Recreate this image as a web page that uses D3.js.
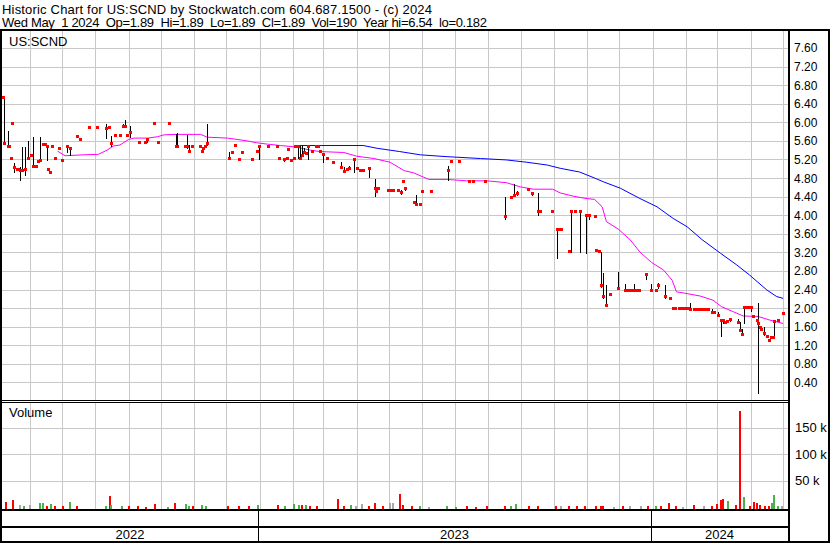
<!DOCTYPE html>
<html><head><meta charset="utf-8">
<script src="https://cdn.jsdelivr.net/npm/d3@7/dist/d3.min.js"></script>
<style>
body{margin:0;background:#fff}
svg{display:block}
text{font-family:"Liberation Sans",Arial,sans-serif;fill:#000}
</style>
</head><body>
<svg id="c" width="830" height="543"></svg>
<script>
// ---------------- DATA ----------------
const headerLine1 = "Historic Chart for US:SCND by Stockwatch.com 604.687.1500 - (c) 2024";
const headerLine2 = "Wed May  1 2024  Op=1.89  Hi=1.89  Lo=1.89  Cl=1.89  Vol=190  Year hi=6.54  lo=0.182";
const symbolLabel = "US:SCND";
const volumeLabel = "Volume";
const yearLabels = ["2022", "2023", "2024"];
const priceTicks = [0.4,0.8,1.2,1.6,2.0,2.4,2.8,3.2,3.6,4.0,4.4,4.8,5.2,5.6,6.0,6.4,6.8,7.2,7.6];
const volumeTicks = [50000, 100000, 150000];
const volumeTickLabels = ["50 k", "100 k", "150 k"];

// rows: [date, high, low, close]  or  [date, close] when no range
const prices2022 = [
["2022-05-07",6.54],["2022-05-08",6.54,5.55,5.55],["2022-05-12",5.82,5.47,5.49],["2022-05-13",5.49],
["2022-05-15",5.24],["2022-05-16",5.99],["2022-05-18",5.12,4.93,5.03],["2022-05-20",5.00],["2022-05-21",5.00],
["2022-05-23",5.04,4.76,4.98],["2022-05-25",5.47,4.97,4.98],["2022-05-28",5.47,4.87,5.00],["2022-05-31",5.60,5.23,5.23],
["2022-06-02",5.30],["2022-06-04",5.69,5.06,5.06],["2022-06-07",5.06],["2022-06-09",5.16],["2022-06-11",5.69,5.19,5.19],
["2022-06-14",5.54],["2022-06-15",5.54],["2022-06-17",5.49,5.19,5.49],["2022-06-18",4.99],["2022-06-20",4.94],
["2022-06-22",5.49],["2022-06-25",5.24],["2022-06-28",5.45],["2022-07-01",5.19],["2022-07-06",5.50,5.35,5.50],
["2022-07-09",5.45,5.30,5.45],["2022-07-15",5.71],["2022-07-18",5.64],["2022-07-26",5.90],["2022-08-03",5.90],
["2022-08-11",5.96,5.66,5.88],["2022-08-14",5.89],["2022-08-16",5.71,5.49,5.55],["2022-08-19",5.73],["2022-08-24",5.73],
["2022-08-27",5.96,5.91,5.91],["2022-08-29",6.05,5.93,5.93],["2022-08-31",5.73],["2022-09-02",5.92,5.68,5.80],
["2022-09-11",5.58],["2022-09-16",5.58],["2022-09-18",5.63,5.58,5.63],["2022-09-25",5.99],["2022-09-28",5.58],
["2022-10-09",5.99],["2022-10-15",5.75,5.49,5.50],["2022-10-16",5.77,5.49,5.49],["2022-10-23",5.49],["2022-10-24",5.49],
["2022-10-25",5.73,5.45,5.49],["2022-10-27",5.51,5.39,5.39],["2022-10-30",5.49],["2022-11-06",5.49],["2022-11-08",5.39],
["2022-11-09",5.45,5.39,5.45],["2022-11-11",5.49],["2022-11-13",5.96,5.51,5.55],["2022-12-03",5.37,5.24,5.24],
["2022-12-06",5.35],["2022-12-09",5.51],["2022-12-13",5.22],["2022-12-15",5.35],["2022-12-25",5.22],["2022-12-29",5.39],
["2022-12-31",5.51,5.22,5.49]
];
const prices2023 = [
["2023-01-09",5.49],["2023-01-17",5.49],["2023-01-19",5.26,5.24,5.24],["2023-01-23",5.23,5.17,5.20],["2023-01-26",5.23],
["2023-01-27",5.43],["2023-01-30",5.19],["2023-02-02",5.23],["2023-02-03",5.50],["2023-02-05",5.50,5.24,5.50],
["2023-02-07",5.50,5.23,5.23],["2023-02-09",5.50,5.29,5.29],["2023-02-11",5.45,5.35,5.35],["2023-02-13",5.33],
["2023-02-15",5.50,5.20,5.50],["2023-02-18",5.39],["2023-02-22",5.50],["2023-02-24",5.50],["2023-02-26",5.39],
["2023-03-01",5.31,5.15,5.31],["2023-03-04",5.23],["2023-03-10",5.15],["2023-03-17",5.15,5.02,5.04],["2023-03-20",5.04,4.95,4.95],
["2023-03-23",4.99],["2023-03-25",5.05,4.99,5.02],["2023-03-29",5.20,4.94,5.20],["2023-04-01",5.02],["2023-04-04",4.98],
["2023-04-05",5.00,4.95,4.98],["2023-04-07",4.98],["2023-04-12",5.02,4.82,5.02],["2023-04-18",4.79,4.42,4.59],["2023-04-19",4.53],
["2023-04-21",4.59],["2023-04-30",4.54],["2023-05-03",4.54],["2023-05-05",4.54],["2023-05-09",4.54],["2023-05-12",4.54,4.45,4.50],
["2023-05-14",4.74],["2023-05-16",4.61,4.54,4.58],["2023-05-24",4.29],["2023-05-26",4.43,4.24,4.24],["2023-05-30",4.24],
["2023-06-01",4.53],["2023-06-09",4.53],["2023-06-25",5.06,4.76,4.98],["2023-06-28",5.17],["2023-07-05",5.17],["2023-07-14",4.74],
["2023-07-18",4.74],["2023-07-29",4.74],["2023-08-17",4.40,3.91,3.98],["2023-08-22",4.40],["2023-08-25",4.67,4.43,4.43],
["2023-08-28",4.53,4.43,4.48],["2023-09-07",4.56],["2023-09-11",4.50,4.44,4.47],["2023-09-16",4.48,4.00,4.10],["2023-09-18",4.10],
["2023-09-29",4.10],["2023-10-04",3.72,3.07,3.70],["2023-10-06",3.70],["2023-10-08",3.70],["2023-10-15",3.24],
["2023-10-17",4.08,3.21,4.08],["2023-10-21",4.08],["2023-10-25",4.08,3.20,4.08],["2023-10-31",4.00,3.19,4.00],
["2023-11-03",4.00,3.92,4.00],["2023-11-08",3.98],["2023-11-09",3.25],["2023-11-12",3.23],["2023-11-14",3.21,2.46,2.50],
["2023-11-16",2.76,2.21,2.25],["2023-11-19",2.50,2.07,2.07],["2023-11-22",2.30],["2023-11-30",2.78,2.43,2.44],
["2023-12-06",2.52,2.40,2.40],["2023-12-08",2.40],["2023-12-10",2.40],["2023-12-12",2.40],["2023-12-15",2.52,2.40,2.40],
["2023-12-17",2.40],["2023-12-19",2.40],["2023-12-26",2.73,2.63,2.73],["2023-12-30",2.52,2.40,2.40]
];
const prices2024 = [
["2024-01-04",2.40],["2024-01-06",2.54,2.43,2.50],["2024-01-12",2.50,2.21,2.26],["2024-01-17",2.21],["2024-01-20",2.01],
["2024-01-22",2.01],["2024-01-25",2.01],["2024-01-27",2.01],["2024-01-29",2.01],["2024-01-31",2.01],["2024-02-03",2.01],
["2024-02-05",2.12,1.95,1.99],["2024-02-08",1.97],["2024-02-10",1.97],["2024-02-12",1.97],["2024-02-14",1.97],["2024-02-17",1.97],
["2024-02-19",1.97],["2024-02-21",1.97],["2024-02-25",1.97,1.92,1.92],["2024-02-27",1.92],["2024-03-02",1.92,1.84,1.85],
["2024-03-04",1.75,1.39,1.74],["2024-03-06",1.74,1.68,1.74],["2024-03-08",1.70],["2024-03-10",1.72],["2024-03-13",1.79,1.72,1.76],
["2024-03-20",1.77,1.70,1.70],["2024-03-22",1.70,1.53,1.53],["2024-03-24",1.55,1.44,1.44],["2024-03-26",2.03,1.67,2.02],
["2024-03-28",2.02],["2024-03-30",2.02],["2024-04-01",2.02,1.94,2.02],["2024-04-03",1.83],["2024-04-07",1.75],
["2024-04-08",2.12,0.18,1.67],["2024-04-10",1.60],["2024-04-11",1.54],["2024-04-13",1.60,1.43,1.47],["2024-04-16",1.40],
["2024-04-18",1.31],["2024-04-20",1.40,1.36,1.37],["2024-04-22",1.37],["2024-04-23",1.74,1.35,1.73],["2024-04-26",1.74],
["2024-05-01",1.89]
];

// moving averages: [date, value]
const maShort = [
["2022-06-27",5.38],["2022-07-04",5.28],["2022-07-21",5.30],["2022-08-04",5.31],["2022-08-12",5.40],["2022-08-18",5.49],
["2022-08-24",5.51],["2022-09-01",5.63],["2022-09-06",5.66],["2022-09-19",5.66],["2022-09-28",5.69],["2022-10-04",5.73],
["2022-10-16",5.74],["2022-11-07",5.74],["2022-11-13",5.68],["2022-12-02",5.66],["2022-12-20",5.60],["2022-12-29",5.56],
["2023-01-08",5.53],["2023-01-20",5.50],["2023-02-03",5.47],["2023-02-17",5.40],["2023-02-26",5.37],["2023-03-20",5.35],
["2023-04-01",5.27],["2023-04-17",5.22],["2023-05-02",5.14],["2023-05-15",4.96],["2023-05-24",4.91],["2023-06-02",4.82],
["2023-06-07",4.77],["2023-06-24",4.77],["2023-07-12",4.74],["2023-07-31",4.74],["2023-08-18",4.70],["2023-08-31",4.61],
["2023-09-12",4.56],["2023-09-30",4.56],["2023-10-07",4.48],["2023-10-19",4.41],["2023-10-31",4.36],["2023-11-08",4.34],
["2023-11-15",4.18],["2023-11-19",3.86],["2023-11-30",3.70],["2023-12-11",3.47],["2023-12-20",3.21],["2023-12-31",2.98],
["2024-01-11",2.82],["2024-01-19",2.60],["2024-01-23",2.35],["2024-01-31",2.32],["2024-02-14",2.26],["2024-02-26",2.17],
["2024-03-05",2.03],["2024-03-16",1.92],["2024-03-25",1.83],["2024-04-08",1.82],["2024-04-19",1.74],["2024-05-01",1.67]
];
const maLong = [
["2023-02-03",5.50],["2023-04-07",5.50],["2023-04-20",5.44],["2023-05-11",5.37],["2023-05-30",5.30],["2023-06-24",5.26],
["2023-07-25",5.22],["2023-08-18",5.19],["2023-09-06",5.14],["2023-09-25",5.08],["2023-10-07",5.01],["2023-10-25",4.93],
["2023-11-08",4.80],["2023-11-16",4.72],["2023-12-02",4.58],["2023-12-20",4.36],["2024-01-05",4.18],["2024-01-20",3.93],
["2024-02-02",3.75],["2024-02-16",3.47],["2024-03-04",3.18],["2024-03-19",2.93],["2024-03-31",2.71],["2024-04-16",2.39],
["2024-04-25",2.25],["2024-05-01",2.21]
];

// volume rows: [date, volume, direction] u = up (green), d = down (red), f = flat (grey)
const volume2022 = [
["2022-05-10",9400,"d"],["2022-05-17",13000,"d"],["2022-05-23",4000,"f"],["2022-05-27",1000,"u"],["2022-06-01",4000,"f"],
["2022-06-11",7000,"u"],["2022-06-14",7000,"u"],["2022-06-17",2000,"d"],["2022-06-21",5000,"u"],["2022-06-25",1000,"d"],
["2022-07-02",1000,"d"],["2022-07-09",9000,"u"],["2022-07-15",1000,"d"],["2022-08-11",1000,"u"],["2022-08-15",20800,"d"],
["2022-08-16",4000,"u"],["2022-08-26",1000,"u"],["2022-09-01",1000,"d"],["2022-09-10",1000,"d"],["2022-09-17",800,"d"],
["2022-09-26",5700,"d"],["2022-10-08",800,"u"],["2022-10-14",7000,"d"],["2022-10-24",5700,"u"],["2022-10-27",2000,"u"],
["2022-10-31",1000,"d"],["2022-11-08",4000,"u"],["2022-11-12",1000,"u"],["2022-12-02",2000,"d"],["2022-12-13",1000,"d"],
["2022-12-22",1000,"d"],["2022-12-30",4000,"u"]
];
const volume2023 = [
["2023-01-18",4000,"d"],["2023-01-24",1000,"u"],["2023-02-02",5700,"u"],["2023-02-06",4000,"u"],["2023-02-09",4000,"d"],
["2023-02-13",3000,"u"],["2023-02-17",1300,"d"],["2023-02-23",1000,"d"],["2023-03-15",15000,"d"],["2023-03-20",1000,"d"],
["2023-03-27",4000,"u"],["2023-03-31",2000,"f"],["2023-04-06",5700,"f"],["2023-04-12",1300,"d"],["2023-04-18",7000,"d"],
["2023-04-25",1000,"d"],["2023-05-02",7000,"f"],["2023-05-05",7000,"f"],["2023-05-11",24500,"d"],["2023-05-14",4000,"d"],
["2023-05-22",1000,"d"],["2023-05-30",1000,"u"],["2023-06-07",800,"f"],["2023-06-24",1000,"u"],["2023-07-02",800,"u"],
["2023-07-12",1000,"d"],["2023-07-21",800,"d"],["2023-07-31",1000,"d"],["2023-08-17",2500,"d"],["2023-08-22",1000,"u"],
["2023-08-27",5700,"u"],["2023-09-08",1000,"d"],["2023-09-16",1300,"d"],["2023-10-03",1300,"d"],["2023-10-08",1000,"f"],
["2023-10-15",1000,"d"],["2023-10-23",1000,"d"],["2023-10-30",1000,"d"],["2023-11-09",1300,"d"],["2023-11-14",2000,"d"],
["2023-11-16",1300,"d"],["2023-11-26",800,"f"],["2023-12-04",1300,"d"],["2023-12-11",2500,"f"],["2023-12-21",2500,"f"],
["2023-12-28",1000,"d"]
];
const volume2024 = [
["2024-01-04",1000,"u"],["2024-01-09",1300,"d"],["2024-01-16",7000,"d"],["2024-01-23",1000,"d"],["2024-01-29",800,"f"],
["2024-02-08",4000,"d"],["2024-02-18",1000,"f"],["2024-02-25",1000,"d"],["2024-03-01",5700,"d"],["2024-03-04",13000,"d"],
["2024-03-06",15000,"d"],["2024-03-11",11000,"u"],["2024-03-18",4000,"d"],["2024-03-22",181000,"d"],["2024-03-26",19000,"u"],
["2024-03-31",2000,"d"],["2024-04-04",9000,"d"],["2024-04-07",7000,"d"],["2024-04-10",4000,"d"],["2024-04-14",2500,"d"],
["2024-04-18",2000,"d"],["2024-04-21",7000,"u"],["2024-04-23",22600,"u"],["2024-04-26",1000,"u"],["2024-04-30",1300,"f"]
];

// ---------------- DRAW ----------------
const W = 830, H = 543;
const parse = d3.utcParse("%Y-%m-%d");
const x = d3.scaleUtc().domain([parse("2022-06-01"), parse("2024-05-01")]).range([29.5, 783]);
const yP = d3.scaleLinear().domain([0, 8]).range([401, 29.4]);
const yV = d3.scaleLinear().domain([0, 200000]).range([507, 401]);
const volColor = {u: "#4cb04c", d: "#ff0000", f: "#a8a8a8"};
const crisp = v => Math.round(v) + 0.5;

const svg = d3.select("#c");
svg.append("rect").attr("width", W).attr("height", H).attr("fill", "#fff");
const defs = svg.append("defs");
defs.append("clipPath").attr("id", "cp").append("rect").attr("x", 2).attr("y", 31).attr("width", 786).attr("height", 369);
defs.append("clipPath").attr("id", "cv").append("rect").attr("x", 2).attr("y", 403).attr("width", 786).attr("height", 106);

const months = d3.utcMonth.range(parse("2022-06-01"), parse("2024-05-02"));
const years = [parse("2023-01-01"), parse("2024-01-01")];

// price panel grid
const gP = svg.append("g").attr("clip-path", "url(#cp)");
gP.selectAll("line.v").data(months).join("line")
  .attr("x1", d => crisp(x(d))).attr("x2", d => crisp(x(d))).attr("y1", 31).attr("y2", 400)
  .attr("stroke", "#c8c8c8").attr("stroke-width", 1);
gP.selectAll("line.h").data(priceTicks).join("line")
  .attr("x1", 2).attr("x2", 788).attr("y1", d => crisp(yP(d))).attr("y2", d => crisp(yP(d)))
  .attr("stroke", "#c8c8c8").attr("stroke-width", 1);

// volume panel grid
const gV = svg.append("g").attr("clip-path", "url(#cv)");
gV.selectAll("line.v").data(months).join("line")
  .attr("x1", d => crisp(x(d))).attr("x2", d => crisp(x(d))).attr("y1", 403).attr("y2", 509)
  .attr("stroke", "#c8c8c8").attr("stroke-width", 1);
gV.selectAll("line.h").data(volumeTicks).join("line")
  .attr("x1", 2).attr("x2", 788).attr("y1", d => crisp(yV(d))).attr("y2", d => crisp(yV(d)))
  .attr("stroke", "#c8c8c8").attr("stroke-width", 1);

// volume bars
const vols = [...volume2022, ...volume2023, ...volume2024].map(r => ({d: parse(r[0]), v: r[1], c: r[2]}));
gV.selectAll("rect.vb").data(vols).join("rect")
  .attr("x", d => Math.round(x(d.d)) - 1).attr("width", 2)
  .attr("y", d => yV(d.v)).attr("height", d => yV(0) - yV(d.v) + 2)
  .attr("fill", d => volColor[d.c]).attr("shape-rendering", "crispEdges");

// moving averages
const line = d3.line().x(d => x(parse(d[0]))).y(d => yP(d[1]));
gP.append("path").attr("d", line(maLong)).attr("fill", "none").attr("stroke", "#0000ff").attr("stroke-width", 1);
gP.append("path").attr("d", line(maShort)).attr("fill", "none").attr("stroke", "#ff00ff").attr("stroke-width", 1);

// price bars
const prices = [...prices2022, ...prices2023, ...prices2024].map(r =>
  r.length === 2 ? {d: parse(r[0]), h: r[1], l: r[1], c: r[1]} : {d: parse(r[0]), h: r[1], l: r[2], c: r[3]});
gP.selectAll("line.pb").data(prices.filter(p => p.h > p.l)).join("line")
  .attr("x1", d => crisp(x(d.d))).attr("x2", d => crisp(x(d.d)))
  .attr("y1", d => Math.round(yP(d.h))).attr("y2", d => Math.round(yP(d.l)) + 1)
  .attr("stroke", "#000").attr("stroke-width", 1);
gP.selectAll("rect.pc").data(prices).join("rect")
  .attr("x", d => Math.round(x(d.d)) - 1).attr("y", d => Math.round(yP(d.c)) - 1)
  .attr("width", 3).attr("height", 3).attr("fill", "#ff0000").attr("shape-rendering", "crispEdges");

// frame
const blk = (x0, y0, w, h) => svg.append("rect").attr("x", x0).attr("y", y0).attr("width", w).attr("height", h)
  .attr("fill", "#000").attr("shape-rendering", "crispEdges");
blk(0, 29, 830, 2);      // header separator
blk(0, 29, 2, 514);      // left edge
blk(788, 29, 2, 514);    // plot right edge
blk(828, 29, 2, 514);    // right edge
blk(2, 400, 786, 1);     // price panel bottom
blk(2, 402, 786, 1);     // volume panel top
blk(2, 509, 786, 2);     // volume panel bottom
blk(2, 526, 786, 2);     // row separator
blk(0, 541, 830, 2);     // bottom edge
years.forEach(d => blk(Math.round(x(d)) - 2, 511, 1, 30));

// texts
svg.append("text").attr("x", 2).attr("y", 13.5).attr("font-size", 13)
  .attr("textLength", 430).attr("lengthAdjust", "spacing").text(headerLine1);
svg.append("text").attr("x", 2).attr("y", 27).attr("font-size", 13).style("white-space", "pre")
  .attr("textLength", 485).attr("lengthAdjust", "spacing").text(headerLine2);
svg.append("text").attr("x", 9).attr("y", 46).attr("font-size", 13).text(symbolLabel);
svg.append("text").attr("x", 9).attr("y", 417).attr("font-size", 13).text(volumeLabel);

svg.selectAll("text.pt").data(priceTicks).join("text")
  .attr("x", 794).attr("y", d => yP(d) + 4.5).attr("font-size", 12).text(d => d3.format(".2f")(d));
svg.selectAll("text.vt").data(volumeTicks).join("text")
  .attr("x", 795).attr("y", d => yV(d) + 4.5).attr("font-size", 13).text((d, i) => volumeTickLabels[i]);

const yearBounds = [2, Math.round(x(years[0])) - 2, Math.round(x(years[1])) - 2, 788];
svg.selectAll("text.yr").data(yearLabels).join("text")
  .attr("x", (d, i) => (yearBounds[i] + yearBounds[i + 1]) / 2).attr("y", 539)
  .attr("text-anchor", "middle").attr("font-size", 13).text(d => d);
</script>
</body></html>
